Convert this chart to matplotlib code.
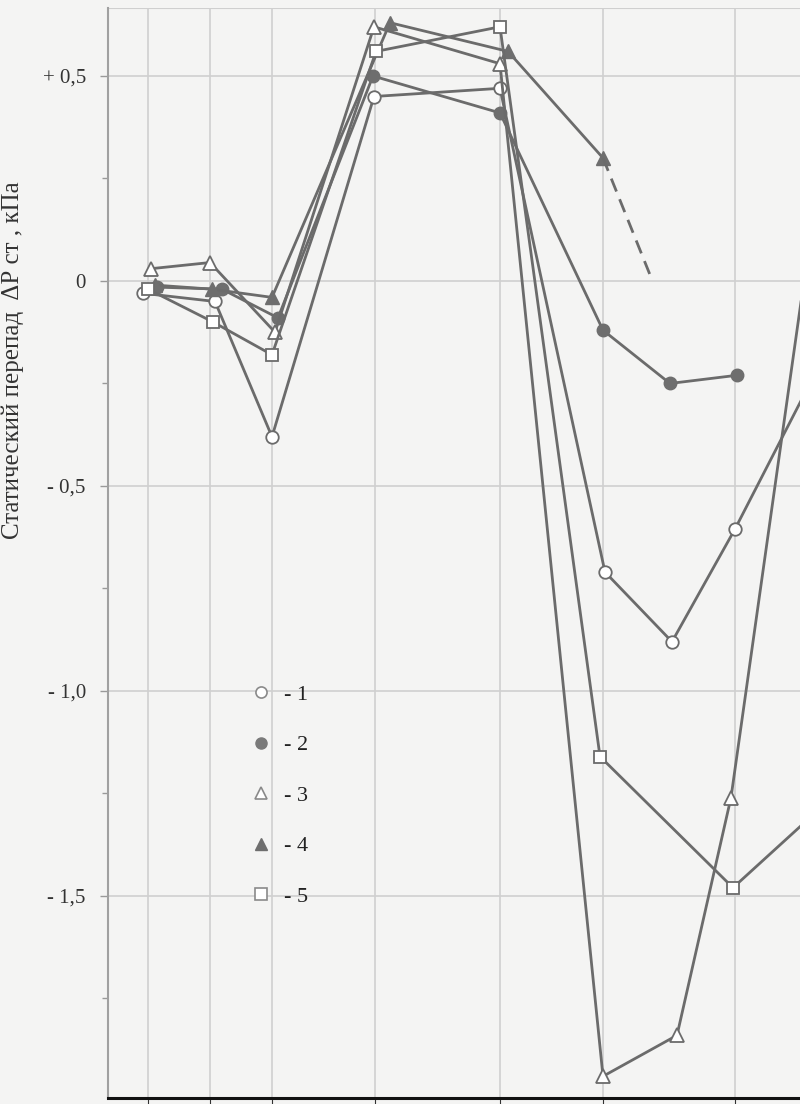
import matplotlib
matplotlib.use("Agg")
import matplotlib.pyplot as plt
from matplotlib.lines import Line2D

# ---- data (x in station units, y in kPa) ----
stations = [0.40, 1.02, 1.64, 2.67, 3.92, 4.95, 6.27]

s1_x = [0.35, 1.07, 1.64, 2.66, 3.92, 4.97, 5.64, 6.27, 7.42]
s1_y = [-0.03, -0.05, -0.38, 0.45, 0.47, -0.71, -0.88, -0.605, -0.06]

s2_x = [0.49, 1.14, 1.70, 2.65, 3.92, 4.95, 5.62, 6.29]
s2_y = [-0.015, -0.02, -0.09, 0.50, 0.41, -0.12, -0.25, -0.23]

s3_x = [0.43, 1.02, 1.67, 2.66, 3.92, 4.95, 5.69, 6.23, 7.22]
s3_y = [0.03, 0.045, -0.125, 0.62, 0.53, -1.94, -1.84, -1.26, 0.45]

s4_x = [0.47, 1.04, 1.64, 2.82, 4.00, 4.95]
s4_y = [-0.01, -0.02, -0.04, 0.63, 0.56, 0.30]
s4_dash_x = [4.95, 5.42]
s4_dash_y = [0.30, 0.015]

s5_x = [0.40, 1.05, 1.64, 2.68, 3.92, 4.92, 6.25, 7.42]
s5_y = [-0.02, -0.10, -0.18, 0.56, 0.62, -1.16, -1.48, -1.22]

legend_labels = ["- 1", "- 2", "- 3", "- 4", "- 5"]
yticks = [0.5, 0.0, -0.5, -1.0, -1.5]
ytick_labels = ["+ 0,5", "0", "- 0,5", "- 1,0", "- 1,5"]
ylabel = "Статический перепад  ΔР ст , кПа"

# ---- style ----
bg = "#f4f4f3"
line_c = "#6b6b6b"
grid_c = "#cfcfcf"
serif = ["Liberation Serif", "DejaVu Serif"]

fig = plt.figure(figsize=(8, 11.04), dpi=100, facecolor=bg)
ax = fig.add_axes([0.135, 0.0054, 0.865, 0.9874], facecolor=bg)
ax.set_xlim(0, 6.92)
ax.set_ylim(-1.993, 0.666)

for xv in stations:
    ax.axvline(xv, color=grid_c, lw=1.2, zorder=0)
for yv in yticks:
    ax.axhline(yv, color=grid_c, lw=1.2, zorder=0)
ax.axhline(0.666, color=grid_c, lw=1.5, zorder=0)

lw = 2.0
ms = 9
ax.plot(s1_x, s1_y, color=line_c, lw=lw, marker="o", ms=ms,
        mfc="white", mec=line_c, mew=1.3, zorder=3)
ax.plot(s2_x, s2_y, color=line_c, lw=lw, marker="o", ms=ms,
        mfc="#6e6e6e", mec="#6e6e6e", zorder=3)
ax.plot(s3_x, s3_y, color=line_c, lw=lw, marker="^", ms=ms + 1,
        mfc="white", mec=line_c, mew=1.3, zorder=3)
ax.plot(s4_x, s4_y, color=line_c, lw=lw, marker="^", ms=ms + 1,
        mfc="#6e6e6e", mec="#6e6e6e", zorder=3)
ax.plot(s4_dash_x, s4_dash_y, color=line_c, lw=lw, ls=(0, (5, 3)), zorder=3)
ax.plot(s5_x, s5_y, color=line_c, lw=lw, marker="s", ms=ms,
        mfc="white", mec=line_c, mew=1.3, zorder=3)

for side in ["top", "right"]:
    ax.spines[side].set_visible(False)
ax.spines["left"].set_color("#a0a0a0")
ax.spines["left"].set_linewidth(1.5)
ax.spines["bottom"].set_color("#111111")
ax.spines["bottom"].set_linewidth(2.2)

ax.set_yticks(yticks)
ax.set_yticklabels(ytick_labels, fontfamily=serif, fontsize=15, color="#333333")
ax.set_yticks([0.25, -0.25, -0.75, -1.25, -1.75], minor=True)
ax.tick_params(axis="y", which="major", length=6, width=1.0, color="#999999", pad=10)
ax.tick_params(axis="y", which="minor", length=4, width=1.0, color="#999999")
ax.set_xticks(stations)
ax.set_xticklabels([])
ax.tick_params(axis="x", length=4, color="#333333")

ax.set_ylabel(ylabel, fontfamily=serif, fontsize=18, color="#333333")
ax.yaxis.set_label_coords(-0.121, 0.677)

handles = [
    Line2D([], [], ls="none", marker="o", ms=8, mfc="white", mec="#8a8a8a", mew=1.2),
    Line2D([], [], ls="none", marker="o", ms=8, mfc="#7a7a7a", mec="#7a7a7a"),
    Line2D([], [], ls="none", marker="^", ms=9, mfc="white", mec="#8a8a8a", mew=1.2),
    Line2D([], [], ls="none", marker="^", ms=9, mfc="#6e6e6e", mec="#6e6e6e"),
    Line2D([], [], ls="none", marker="s", ms=8, mfc="white", mec="#8a8a8a", mew=1.2),
]
leg = ax.legend(handles, legend_labels, loc="upper left",
                bbox_to_anchor=(0.18, 0.398), frameon=False,
                handlelength=0.8, handletextpad=0.6, labelspacing=1.35,
                prop={"family": serif, "size": 16})
for t in leg.get_texts():
    t.set_color("#222222")

fig.savefig("out.png", dpi=100, facecolor=bg)
